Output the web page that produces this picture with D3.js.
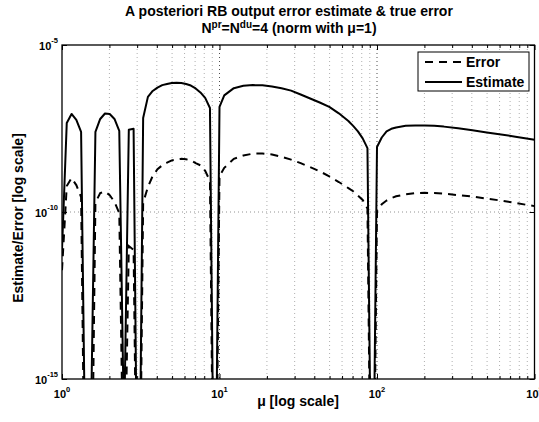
<!DOCTYPE html>
<html><head><meta charset="utf-8">
<script src="https://cdn.jsdelivr.net/npm/d3@7"></script>
<style>
body{margin:0;background:#fff}
text{font-family:"Liberation Sans",Arial,Helvetica,sans-serif;font-weight:bold;fill:#000}
</style>
</head><body>
<svg id="c" width="539" height="422"></svg>
<script>
const mu = [1, 1.072, 1.150, 1.233, 1.322, 1.417, 1.520, 1.630, 1.748, 1.874, 2.009, 2.154, 2.310, 2.477, 2.656, 2.848, 3.054, 3.275, 3.511, 3.765, 4.037, 4.329, 4.642, 4.977, 5.337, 5.722, 6.136, 6.579, 7.055, 7.565, 8.111, 8.697, 9.326, 10.0, 10.72,
  12.33, 14.17, 16.30, 18.74, 21.54, 24.77, 28.48, 32.75, 37.65, 43.29, 49.77, 57.22,
  65.79, 70.55, 75.65, 81.11, 86.97, 93.26, 100, 107.2, 115.0, 123.3, 132.2,
  152.0, 174.8, 200.9, 231.0, 265.6,
  327.5, 403.7, 497.7, 613.6, 756.5, 1000];
const estimate = [7.3e-12, 4.6e-8, 8.6e-8, 5.7e-8, 2.5e-8, 1.6e-19, 1.1e-17, 2.5e-8, 6.1e-8, 8.9e-8, 8.6e-8, 6.1e-8, 2.7e-8, 2.6e-17, 2.9e-8, 3.1e-8, 6e-23, 6.5e-8, 2.8e-7, 4.2e-7, 5.3e-7, 6.3e-7, 6.8e-7, 7.3e-7, 7.4e-7, 7.3e-7, 6.8e-7, 6.1e-7, 5.0e-7, 3.8e-7, 2.6e-7, 1.3e-7, 2.5e-22, 1.4e-7, 3.1e-7,
  5.1e-7, 6.0e-7, 6.3e-7, 6.2e-7, 5.7e-7, 5.1e-7, 4.3e-7, 3.3e-7, 2.5e-7, 1.9e-7, 1.4e-7, 9.0e-8,
  5.3e-8, 3.8e-8, 2.6e-8, 1.6e-8, 8.2e-9, 2.5e-22, 8.8e-9, 1.7e-8, 2.6e-8, 3.1e-8, 3.4e-8,
  3.8e-8, 3.9e-8, 3.9e-8, 3.8e-8, 3.6e-8,
  3.2e-8, 2.8e-8, 2.4e-8, 2.1e-8, 1.8e-8, 1.45e-8];
const error = [1.8e-12, 6.0e-10, 1.04e-9, 6.4e-10, 2.8e-10, 2.5e-22, 2.5e-22, 1.9e-10, 3.7e-10, 4.1e-10, 3.2e-10, 2.0e-10, 9.3e-11, 6e-20, 9.6e-12, 7.3e-12, 1e-23, 1.9e-10, 5.6e-10, 1.2e-9, 1.9e-9, 2.5e-9, 3.0e-9, 3.5e-9, 3.7e-9, 3.9e-9, 3.8e-9, 3.5e-9, 2.9e-9, 2.5e-9, 1.7e-9, 8.5e-10, 1e-23, 1.2e-9, 2.1e-9,
  3.9e-9, 4.9e-9, 5.6e-9, 5.6e-9, 5.3e-9, 4.5e-9, 3.7e-9, 2.9e-9, 2.2e-9, 1.65e-9, 1.17e-9, 7.9e-10,
  5.2e-10, 4.2e-10, 3.1e-10, 2.3e-10, 1.27e-10, 1e-23, 1.07e-10, 1.7e-10, 2.2e-10, 2.6e-10, 2.95e-10,
  3.4e-10, 3.65e-10, 3.75e-10, 3.7e-10, 3.55e-10,
  3.2e-10, 2.9e-10, 2.5e-10, 2.2e-10, 1.86e-10, 1.5e-10];
const xMajorTicks = [1, 10, 100, 1000];
const xTickExponents = ["0", "1", "2", "3"];
const yMajorTicks = [1e-5, 1e-10, 1e-15];
const yTickExponents = ["-5", "-10", "-15"];
const yGridValues = [1e-10];
const seriesNames = ["Error", "Estimate"];
const titleLine1 = "A posteriori RB output error estimate & true error";
const xLabel = "\u03bc [log scale]";
const yLabel = "Estimate/Error [log scale]";

const L = 62, R = 534.5, T = 45, B = 379;
const svg = d3.select("#c");
const x = d3.scaleLog().domain([1, 1000]).range([L, R]);
const y = d3.scaleLog().domain([1e-15, 1e-5]).range([B, T]);

const xMinor = [];
for (let e = 0; e < 3; e++) for (let m = 2; m <= 9; m++) xMinor.push(m * Math.pow(10, e));

const g = svg.append("g");
g.selectAll("line.minor").data(xMinor).join("line")
  .attr("x1", d => x(d)).attr("x2", d => x(d)).attr("y1", T).attr("y2", B)
  .attr("stroke", "#9a9a9a").attr("stroke-width", 0.8).attr("stroke-dasharray", "1,3");
g.selectAll("line.major").data(xMajorTicks.slice(1, 3)).join("line")
  .attr("x1", d => x(d)).attr("x2", d => x(d)).attr("y1", T).attr("y2", B)
  .attr("stroke", "#222").attr("stroke-width", 0.8).attr("stroke-dasharray", "1,3");
g.selectAll("line.hg").data(yGridValues).join("line")
  .attr("x1", L).attr("x2", R).attr("y1", d => y(d)).attr("y2", d => y(d))
  .attr("stroke", "#777").attr("stroke-width", 0.8).attr("stroke-dasharray", "1,3");

const axB = d3.axisBottom(x).tickValues(xMajorTicks).tickSizeInner(-5).tickSizeOuter(0).tickFormat("");
const axBm = d3.axisBottom(x).tickValues(xMinor).tickSizeInner(-3).tickSizeOuter(0).tickFormat("");
const axT = d3.axisTop(x).tickValues(xMajorTicks).tickSizeInner(-5).tickSizeOuter(0).tickFormat("");
const axTm = d3.axisTop(x).tickValues(xMinor).tickSizeInner(-3).tickSizeOuter(0).tickFormat("");
const axL = d3.axisLeft(y).tickValues(yMajorTicks).tickSizeInner(-5).tickSizeOuter(0).tickFormat("");
const axR = d3.axisRight(y).tickValues(yMajorTicks).tickSizeInner(-5).tickSizeOuter(0).tickFormat("");
[[axB, `translate(0,${B})`], [axBm, `translate(0,${B})`], [axT, `translate(0,${T})`], [axTm, `translate(0,${T})`],
 [axL, `translate(${L},0)`], [axR, `translate(${R},0)`]].forEach(([a, t]) => {
  const gg = svg.append("g").attr("transform", t).call(a);
  gg.select(".domain").remove();
  gg.selectAll("line").attr("stroke", "#000").attr("stroke-width", 1);
});

svg.append("clipPath").attr("id", "clip").append("rect")
  .attr("x", L).attr("y", T).attr("width", R - L).attr("height", B - T);
const line = d3.line().x(d => x(d[0])).y(d => y(d[1]));
const pe = mu.map((m, i) => [m, error[i]]);
const ps = mu.map((m, i) => [m, estimate[i]]);
svg.append("path").datum(pe).attr("clip-path", "url(#clip)").attr("d", line)
  .attr("fill", "none").attr("stroke", "#000").attr("stroke-width", 2).attr("stroke-dasharray", "8,6");
svg.append("path").datum(ps).attr("clip-path", "url(#clip)").attr("d", line)
  .attr("fill", "none").attr("stroke", "#000").attr("stroke-width", 2).attr("stroke-linejoin", "round");

svg.append("rect").attr("x", L).attr("y", T).attr("width", R - L).attr("height", B - T)
  .attr("fill", "none").attr("stroke", "#000").attr("stroke-width", 1.3);

xMajorTicks.forEach((v, i) => {
  const t = svg.append("text").attr("x", x(v)).attr("y", 398).attr("text-anchor", "middle").style("font-size", "11px");
  t.append("tspan").text("10");
  t.append("tspan").attr("dy", -6).style("font-size", "7.5px").text(xTickExponents[i]);
});
yMajorTicks.forEach((v, i) => {
  const t = svg.append("text").attr("x", 58).attr("y", y(v) + 5).attr("text-anchor", "end").style("font-size", "11px");
  t.append("tspan").text("10");
  t.append("tspan").attr("dy", -7).style("font-size", "7.5px").text(yTickExponents[i]);
});

svg.append("text").attr("x", 289).attr("y", 16).attr("text-anchor", "middle").style("font-size", "14px").text(titleLine1);
const t2 = svg.append("text").attr("x", 289).attr("y", 33).attr("text-anchor", "middle").style("font-size", "14px");
t2.append("tspan").text("N");
t2.append("tspan").attr("dy", -5).style("font-size", "10px").text("pr");
t2.append("tspan").attr("dy", 5).text("=N");
t2.append("tspan").attr("dy", -5).style("font-size", "10px").text("du");
t2.append("tspan").attr("dy", 5).text("=4 (norm with \u03bc=1)");

svg.append("text").attr("x", 298).attr("y", 406).attr("text-anchor", "middle").style("font-size", "14px").text(xLabel);
svg.append("text").attr("transform", "translate(23,218) rotate(-90)").attr("text-anchor", "middle").style("font-size", "14px").text(yLabel);

const lg = svg.append("g");
lg.append("rect").attr("x", 418).attr("y", 52).attr("width", 111).attr("height", 39)
  .attr("fill", "#fff").attr("stroke", "#000").attr("stroke-width", 1);
const legY = [62, 82];
const legDash = ["8,6", null];
seriesNames.forEach((n, i) => {
  lg.append("line").attr("x1", 425).attr("x2", 462).attr("y1", legY[i]).attr("y2", legY[i])
    .attr("stroke", "#000").attr("stroke-width", 2).attr("stroke-dasharray", legDash[i]);
  lg.append("text").attr("x", 466).attr("y", legY[i] + 5).style("font-size", "14px").text(n);
});
</script>
</body></html>
